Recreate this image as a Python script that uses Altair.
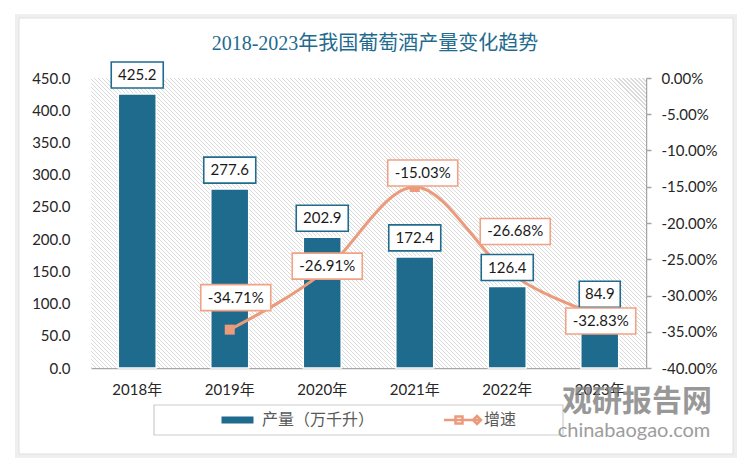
import altair as alt
import pandas as pd

# ---------------- data ----------------
years = ["2018年", "2019年", "2020年", "2021年", "2022年", "2023年"]
output = [425.2, 277.6, 202.9, 172.4, 126.4, 84.9]
growth_pct = [None, -34.71, -26.91, -15.03, -26.68, -32.83]
left_ticks = [0, 50, 100, 150, 200, 250, 300, 350, 400, 450]
right_ticks = [0, -0.05, -0.10, -0.15, -0.20, -0.25, -0.30, -0.35, -0.40]

TITLE = "2018-2023年我国葡萄酒产量变化趋势"
BAR_NAME = "产量（万千升）"
LINE_NAME = "增速"
WM1 = "观研报告网"
WM2 = "chinabaogao.com"

# ---------------- style ----------------
BLUE = "#1f6b8e"
SALMON = "#eb9a7b"
BOX_SALMON = "#f0a384"
TXT = "#1a1a1a"
AXIS_TXT = "#262626"
GRAY = "#a6a6a6"
FONT = "Lato, 'Noto Sans CJK SC'"
CJK = "'Noto Sans CJK SC'"
W, H = 555, 290

# label offsets (pixels) for the growth labels, as placed in the original
line_label_shift = {
    "2019年": (6, -32),
    "2020年": (5, -7),
    "2021年": (8, -14),
    "2022年": (8, -40),
    "2023年": (1, 5),
}

df = pd.DataFrame({
    "year": years,
    "output": output,
    "growth": [None if g is None else g / 100 for g in growth_pct],
})
df["out_label"] = [f"{v:.1f}" for v in output]
df["g_label"] = ["" if g is None else f"{g:.2f}%" for g in growth_pct]
df["bar_series"] = BAR_NAME
df["line_series"] = LINE_NAME


# ---------------- hatched plot background ----------------
def hatch_gradient():
    r = H / W
    k = (1 + r) / (1 + r * r)
    n = int((W + H) / 4.0)
    f = 0.26
    line_c = "#dadada"
    stops = []
    for i in range(n):
        t0 = i / n
        t1 = (i + f) / n
        t2 = (i + 1) / n
        stops += [
            {"offset": t0, "color": line_c},
            {"offset": t1, "color": line_c},
            {"offset": t1, "color": "#ffffff"},
            {"offset": t2, "color": "#ffffff"},
        ]
    return {"gradient": "linear", "x1": 0, "y1": 1, "x2": k, "y2": 1 - k * r, "stops": stops}


def box_path(w, h, scale=5.0):
    a = w / 2 / scale
    b = h / 2 / scale
    return f"M{-a:.3f},{-b:.3f}H{a:.3f}V{b:.3f}H{-a:.3f}Z"


X = alt.X(
    "year:N", sort=years, title=None,
    scale=alt.Scale(paddingInner=0.59, paddingOuter=0.295),
    axis=alt.Axis(labelAngle=0, labelFont=FONT, labelFontSize=15, labelColor=AXIS_TXT,
                  domainColor=GRAY, domainWidth=1.5, ticks=False, labelPadding=14, grid=False),
)
bar_scale = alt.Scale(domain=[0, 450], nice=False, zero=True)
line_scale = alt.Scale(domain=[-0.4, 0], nice=False, zero=False)

Y_BAR = alt.Y(
    "output:Q", title=None, scale=bar_scale,
    axis=alt.Axis(orient="left", values=left_ticks, format=".1f", domain=False, ticks=False,
                  grid=False, labelPadding=21, labelFont=FONT, labelFontSize=15, labelColor=AXIS_TXT),
)
Y_BAR_NOAXIS = alt.Y("output:Q", title=None, scale=bar_scale, axis=None)

Y_LINE = alt.Y(
    "growth:Q", title=None, scale=line_scale,
    axis=alt.Axis(orient="right", values=right_ticks,
                  labelExpr="replace(format(datum.value, '.2%'), '\u2212', '-')",
                  domain=True, domainColor=GRAY, domainWidth=1.5, ticks=True, tickColor=GRAY,
                  tickSize=5, tickWidth=1.5, labelPadding=10, grid=False,
                  labelFont=FONT, labelFontSize=15, labelColor=AXIS_TXT),
)
Y_LINE_NOAXIS = alt.Y("growth:Q", title=None, scale=line_scale, axis=None)

base = alt.Chart(df)
one = alt.Data(values=[{"k": 0}])

# decorative: hatched plot area, card and legend frame
hatch = alt.Chart(one).mark_rect(fill=hatch_gradient(), strokeWidth=0).encode(
    x=alt.value(0), x2=alt.value(W), y=alt.value(0), y2=alt.value(H))
card_shadow = alt.Chart(one).mark_rect(fillOpacity=0, stroke="#efefef", strokeWidth=4).encode(
    x=alt.value(-74), x2=alt.value(644), y=alt.value(-62), y2=alt.value(378))
card = alt.Chart(one).mark_rect(fillOpacity=0, stroke="#e0e0e0", strokeWidth=1).encode(
    x=alt.value(-72), x2=alt.value(642), y=alt.value(-60), y2=alt.value(376))
legend_frame = alt.Chart(one).mark_rect(fillOpacity=0, stroke="#cccccc", strokeWidth=1.2).encode(
    x=alt.value(63), x2=alt.value(472), y=alt.value(327), y2=alt.value(357))

bars = base.mark_bar(stroke="white", strokeWidth=1.5).encode(
    x=X, y=Y_BAR,
    fill=alt.Fill(
        "bar_series:N",
        scale=alt.Scale(domain=[BAR_NAME], range=[BLUE]),
        legend=alt.Legend(orient="none", legendX=138.5, legendY=334, title=None, padding=0,
                          symbolType=box_path(32, 7), symbolSize=100, symbolStrokeWidth=0,
                          labelFont=CJK, labelFontSize=16, labelColor="#595959", labelOffset=16.5),
    ),
)

growth_df = base.transform_filter("datum.growth != null")
LINE_SYMBOL = "M-3.7,0H3.7M-1.4,-0.7H0V0.7H-1.4ZM2.9,-0.8L3.7,0L2.9,0.8L2.1,0Z"
line = growth_df.mark_line(strokeWidth=3, interpolate="monotone").encode(
    x=X, y=Y_LINE,
    stroke=alt.Stroke(
        "line_series:N",
        scale=alt.Scale(domain=[LINE_NAME], range=[SALMON]),
        legend=alt.Legend(orient="none", legendX=363.5, legendY=334, title=None, padding=0,
                          symbolType=LINE_SYMBOL, symbolSize=100, symbolStrokeWidth=2.5,
                          labelFont=CJK, labelFontSize=16, labelColor="#595959", labelOffset=13.5),
    ),
)
points = growth_df.mark_point(shape="square", filled=True, size=100, color=SALMON, opacity=1).encode(
    x=X, y=Y_LINE_NOAXIS)

layers = [hatch, card_shadow, card, legend_frame, bars, line, points]

# bar value labels (box width follows text length)
for L in sorted(set(len(s) for s in df["out_label"])):
    sub = base.transform_filter(f"length(datum.out_label) == {L}")
    layers.append(sub.mark_point(shape=box_path(11 * L - 3, 26), size=100, fill="white",
                                 fillOpacity=1, stroke=BLUE, strokeWidth=1.6, opacity=1,
                                 yOffset=-19).encode(x=X, y=Y_BAR_NOAXIS))
    layers.append(sub.mark_text(dy=-19, font=FONT, fontSize=15, color=TXT, baseline="middle").encode(
        x=X, y=Y_BAR_NOAXIS, text="out_label:N"))

# growth labels
for yr, (dx, dy) in line_label_shift.items():
    sub = base.transform_filter(alt.datum.year == yr)
    layers.append(sub.mark_point(shape=box_path(70, 26), size=100, fill="white", fillOpacity=1,
                                 stroke=BOX_SALMON, strokeWidth=1.6, opacity=1,
                                 xOffset=dx, yOffset=dy).encode(x=X, y=Y_LINE_NOAXIS))
    layers.append(sub.mark_text(dx=dx, dy=dy, font=FONT, fontSize=15, color=TXT, baseline="middle").encode(
        x=X, y=Y_LINE_NOAXIS, text="g_label:N"))

title = alt.Chart(one).mark_text(text=TITLE, font="'Liberation Serif', 'Noto Sans CJK SC'",
                                 fontSize=20, color=BLUE, baseline="middle").encode(
    x=alt.value(284), y=alt.value(-34))
wm1 = alt.Chart(one).mark_text(text=WM1, font=CJK, fontSize=30, fontWeight="bold",
                               color="#7f7f7f", opacity=0.8, baseline="middle").encode(
    x=alt.value(546), y=alt.value(324))
wm2 = alt.Chart(one).mark_text(text=WM2, font="Lato", fontSize=20, color="#8c8c8c",
                               opacity=0.85, baseline="middle").encode(
    x=alt.value(543), y=alt.value(353))
layers += [title, wm1, wm2]

chart = alt.layer(*layers).resolve_scale(y="independent").properties(
    width=W, height=H,
    padding={"left": 83, "top": 70, "right": 96, "bottom": 95},
    autosize=alt.AutoSizeParams(type="none"),
    background="white",
).configure_view(stroke=None)

chart.save("out.html", embed_options={"renderer": "svg", "actions": False})
